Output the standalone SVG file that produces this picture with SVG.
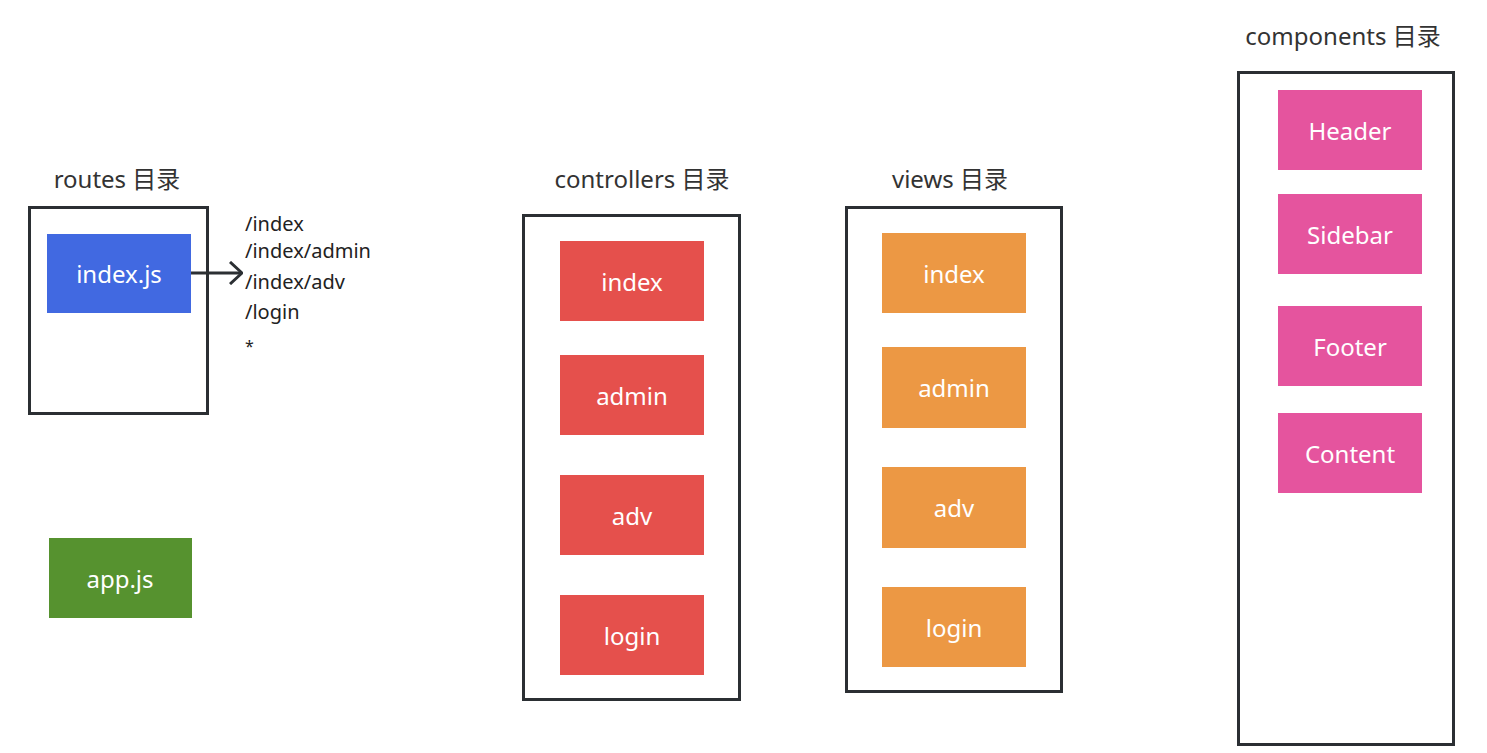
<svg xmlns="http://www.w3.org/2000/svg" width="1487" height="753" viewBox="0 0 1487 753">
<defs>
<style>
.frame{fill:#fff;stroke:#2b2f33;stroke-width:3}
.title{font-family:"Noto Sans","Noto Sans CJK SC",sans-serif;font-size:24px;fill:#333;text-anchor:middle}
.lbl{font-family:"Noto Sans","Noto Sans CJK SC",sans-serif;font-size:24px;fill:#fff;text-anchor:middle;dominant-baseline:central}
.route{font-family:"Noto Sans","Noto Sans CJK SC",sans-serif;font-size:20px;fill:#222}
.blue{fill:#4169e1}.green{fill:#56922f}.red{fill:#e5504c}.orange{fill:#ec9844}.pink{fill:#e5549e}
</style>
<marker id="chev" viewBox="0 0 14 24" refX="13" refY="12" markerWidth="14" markerHeight="24" markerUnits="userSpaceOnUse" orient="auto">
<path d="M1,1 L13,12 L1,23" fill="none" stroke="#2b2f33" stroke-width="3"/>
</marker>
</defs>
<rect width="1487" height="753" fill="#fff"/>

<g id="routes">
<text class="title" x="117" y="188">routes 目录</text>
<rect class="frame" x="29.5" y="207.5" width="178" height="206"/>
</g>
<g id="indexjs">
<rect class="blue" x="47" y="234" width="144" height="79"/>
<text class="lbl" x="119" y="273">index.js</text>
</g>
<g id="routelist">
<text class="route" x="245" y="231">/index</text>
<text class="route" x="245" y="258">/index/admin</text>
<text class="route" x="245" y="289">/index/adv</text>
<text class="route" x="245" y="319">/login</text>
<text class="route" x="245" y="352" style="font-size:16px">*</text>
</g>
<g id="appjs">
<rect class="green" x="49" y="538" width="143" height="80"/>
<text class="lbl" x="120" y="578">app.js</text>
</g>

<g id="controllers">
<text class="title" x="642" y="188">controllers 目录</text>
<rect class="frame" x="523.5" y="215.5" width="216" height="484"/>
</g>
<g id="c-index"><rect class="red" x="560" y="241" width="144" height="80"/><text class="lbl" x="632" y="281">index</text></g>
<g id="c-admin"><rect class="red" x="560" y="355" width="144" height="80"/><text class="lbl" x="632" y="395">admin</text></g>
<g id="c-adv"><rect class="red" x="560" y="475" width="144" height="80"/><text class="lbl" x="632" y="515">adv</text></g>
<g id="c-login"><rect class="red" x="560" y="595" width="144" height="80"/><text class="lbl" x="632" y="635">login</text></g>

<g id="views">
<text class="title" x="950" y="188">views 目录</text>
<rect class="frame" x="846.5" y="207.5" width="215" height="484"/>
</g>
<g id="v-index"><rect class="orange" x="882" y="233" width="144" height="80"/><text class="lbl" x="954" y="273">index</text></g>
<g id="v-admin"><rect class="orange" x="882" y="347" width="144" height="81"/><text class="lbl" x="954" y="387">admin</text></g>
<g id="v-adv"><rect class="orange" x="882" y="467" width="144" height="81"/><text class="lbl" x="954" y="507">adv</text></g>
<g id="v-login"><rect class="orange" x="882" y="587" width="144" height="80"/><text class="lbl" x="954" y="627">login</text></g>

<g id="components">
<text class="title" x="1343" y="45">components 目录</text>
<rect class="frame" x="1238.5" y="72.5" width="215" height="672"/>
</g>
<g id="header"><rect class="pink" x="1278" y="90" width="144" height="80"/><text class="lbl" x="1350" y="130">Header</text></g>
<g id="sidebar"><rect class="pink" x="1278" y="194" width="144" height="80"/><text class="lbl" x="1350" y="234">Sidebar</text></g>
<g id="footer"><rect class="pink" x="1278" y="306" width="144" height="80"/><text class="lbl" x="1350" y="346">Footer</text></g>
<g id="content"><rect class="pink" x="1278" y="413" width="144" height="80"/><text class="lbl" x="1350" y="453">Content</text></g>

<g id="connectors">
<line x1="191" y1="273" x2="242" y2="273" stroke="#2b2f33" stroke-width="3" marker-end="url(#chev)"/>
</g>
</svg>
